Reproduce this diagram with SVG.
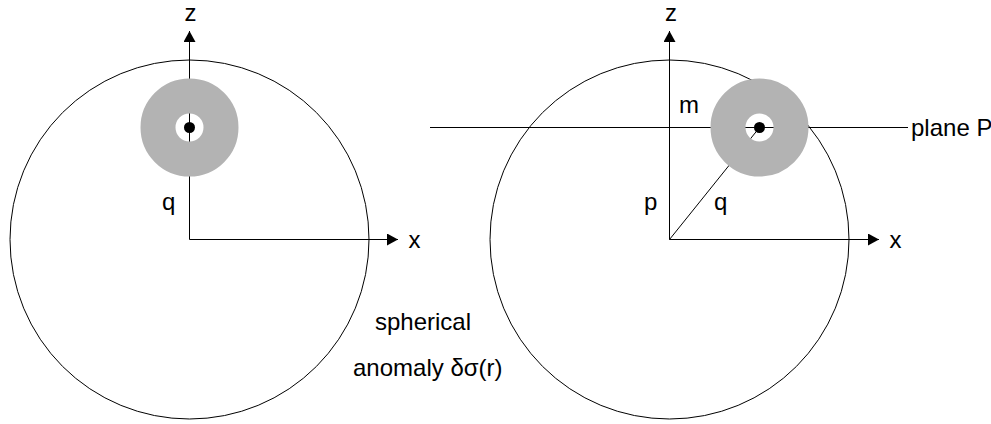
<svg xmlns="http://www.w3.org/2000/svg" width="991" height="424" viewBox="0 0 991 424">
<style>
.ln{stroke:#000;stroke-width:1;fill:none}
.ring{fill:none;stroke:#b3b3b3;stroke-width:35}
.dot{fill:#000}
.t{font-family:"Liberation Sans",Arial,Helvetica,sans-serif;font-size:24px;fill:#000}
</style>
<defs>
<marker id="arr" markerUnits="userSpaceOnUse" markerWidth="12" markerHeight="12" refX="11" refY="6" orient="auto">
<path d="M0,0 L11,6 L0,12 Z" fill="#000"/>
</marker>
</defs>
<rect width="991" height="424" fill="#fff"/>
<g id="left-sphere">
<circle class="ln" cx="189.5" cy="239.5" r="179.5"/>
</g>
<g id="right-sphere">
<circle class="ln" cx="669.5" cy="239.5" r="179.5"/>
</g>
<g id="connectors">
<line class="ln" x1="189.5" y1="239.5" x2="189.5" y2="31" marker-end="url(#arr)"/>
<line class="ln" x1="189.5" y1="239.5" x2="398" y2="239.5" marker-end="url(#arr)"/>
<line class="ln" x1="669.5" y1="239.5" x2="669.5" y2="31" marker-end="url(#arr)"/>
<line class="ln" x1="669.5" y1="239.5" x2="879" y2="239.5" marker-end="url(#arr)"/>
<line class="ln" x1="430" y1="127.5" x2="908" y2="127.5"/>
<line class="ln" x1="669.5" y1="239.5" x2="759.5" y2="127.5"/>
</g>
<g id="left-anomaly">
<circle class="ring" cx="189.5" cy="127.5" r="31.5"/>
<circle class="dot" cx="189.5" cy="127.5" r="5.5"/>
</g>
<g id="right-anomaly">
<circle class="ring" cx="759.5" cy="127.5" r="31.5"/>
<circle class="dot" cx="759.5" cy="127.5" r="5.5"/>
</g>
<g id="labels">
<text class="t" x="190.5" y="21" text-anchor="middle">z</text>
<text class="t" x="162" y="210">q</text>
<text class="t" x="408.5" y="248">x</text>
<text class="t" x="671" y="21" text-anchor="middle">z</text>
<text class="t" x="679" y="113">m</text>
<text class="t" x="644" y="210">p</text>
<text class="t" x="714" y="210">q</text>
<text class="t" x="889.5" y="248">x</text>
<text class="t" x="911" y="136">plane P</text>
<text class="t" x="375" y="330">spherical</text>
<text class="t" x="353" y="376">anomaly δσ(r)</text>
</g>
</svg>
